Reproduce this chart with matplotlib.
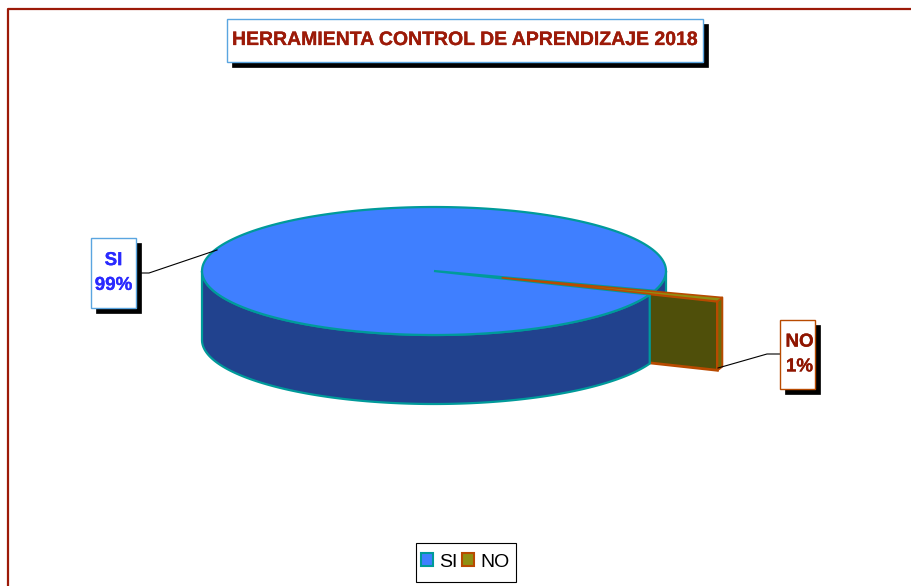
import numpy as np
import matplotlib
matplotlib.use('Agg')
import matplotlib.pyplot as plt
import matplotlib.patheffects as pe
from matplotlib.patches import Patch, Rectangle

plt.rcParams['font.family'] = ['Liberation Sans', 'DejaVu Sans']

title = 'HERRAMIENTA CONTROL DE APRENDIZAJE 2018'
categories = ['SI', 'NO']
values = [99, 1]

top_colors = ['#3f7fff', '#8f8f12']
side_colors = ['#21428e', '#4f4f0a']
edge_colors = ['#009a9a', '#b84a00']
text_colors = ['#2a2aff', '#8f1500']
red = '#9c1a08'

# ellipse of the pie, in pixels
cx, cy = 434, 271
rx, ry = 232, 64
depth = 69
start_angle = -18
explode = 0.31


def pt(a, x0=cx, y0=cy):
    a = np.radians(a)
    return x0 + rx * np.cos(a), y0 - ry * np.sin(a)


def arc(a1, a2, x0=cx, y0=cy):
    t = np.radians(np.linspace(a1, a2, 200))
    return x0 + rx * np.cos(t), y0 - ry * np.sin(t)


def side(ax, a1, a2, x0, y0, color, edge, lw):
    x, y = arc(a1, a2, x0, y0)
    ax.fill(np.r_[x, x[::-1]], np.r_[y, y[::-1] + depth], fc=color, ec=edge, lw=lw, joinstyle='round')


def label_box(ax, x, y, w, h, txt, color, edge, size, tx=0, spacing=1.6):
    ax.add_patch(Rectangle((x + 5, y + 5), w, h, fc='black', ec='black', lw=0.5, zorder=3))
    ax.add_patch(Rectangle((x, y), w, h, fc='white', ec=edge, lw=1, zorder=3))
    t = ax.text(x + w / 2 + tx, y + h / 2, txt, color=color, fontsize=size, fontweight='bold',
                ha='center', va='center', linespacing=spacing, zorder=4)
    t.set_path_effects([pe.withStroke(linewidth=0.2, foreground=color)])


fig = plt.figure(figsize=(9.12, 5.86), dpi=100)
ax = fig.add_axes([0, 0, 1, 1])
ax.set_xlim(0, 912)
ax.set_ylim(586, 0)
ax.axis('off')

# chart frame, runs off the image on the right and bottom
ax.plot([8.5, 8.5, 912], [586, 8.5, 8.5], color=red, lw=1.6)

total = sum(values)
si_end = start_angle + 360 * values[0] / total
no_end = si_end + 360 * values[1] / total
mid = (si_end + no_end) / 2
ox, oy = pt(mid)
ax_no, ay_no = cx + (ox - cx) * explode, cy + (oy - cy) * explode

# leader lines
ax.plot([141, 149, 217], [273, 273, 250], color='black', lw=0.8)
ax.plot([816, 767, 718], [354, 354, 368], color='black', lw=0.8)

# SI wall behind the NO slice
side(ax, no_end, 360, cx, cy, side_colors[0], edge_colors[0], 1.6)

# NO slice: cut face and outer rim, the SI body hides most of the face
bx, by = pt(si_end, ax_no, ay_no)
ax.fill([ax_no, bx, bx, ax_no], [ay_no, by, by + depth, ay_no + depth],
        fc=side_colors[1], ec=edge_colors[1], lw=2)
side(ax, si_end, no_end, ax_no, ay_no, '#6b6b0c', edge_colors[1], 1.4)

# SI slice: visible wall, then top
side(ax, 180, si_end, cx, cy, side_colors[0], edge_colors[0], 1.6)
x, y = arc(start_angle, si_end)
ax.fill(np.r_[cx, x], np.r_[cy, y], fc=top_colors[0], ec=edge_colors[0], lw=1.6)

# NO top
x, y = arc(si_end, no_end, ax_no, ay_no)
ax.fill(np.r_[ax_no, x], np.r_[ay_no, y], fc=top_colors[1], ec=edge_colors[1], lw=1.2)

# title and data labels
label_box(ax, 227, 19, 476, 43, title, red, '#5aa5e0', 14)
label_box(ax, 91, 238, 45, 70, categories[0] + '\n' + str(values[0]) + '%', text_colors[0], '#5aa5e0', 13.5)
label_box(ax, 780, 320, 35, 69, categories[1] + '\n' + str(values[1]) + '%', text_colors[1], edge_colors[1], 13.5, tx=2)

# legend, frame drawn on its own so the padding can differ per side
ax.add_patch(Rectangle((416, 543), 100, 39, fc='white', ec='black', lw=0.8, zorder=3))
handles = [Patch(fc=top_colors[i], ec=edge_colors[i], lw=1.5, label=categories[i]) for i in range(2)]
leg = ax.legend(handles=handles, ncol=2, loc='center', bbox_to_anchor=(465, 562),
                bbox_transform=ax.transData, fontsize=14, frameon=False,
                handlelength=0.62, handleheight=0.62,
                handletextpad=0.3, columnspacing=0.25, borderpad=0, borderaxespad=0)
leg.set_zorder(4)

plt.savefig('out.png', dpi=100)
